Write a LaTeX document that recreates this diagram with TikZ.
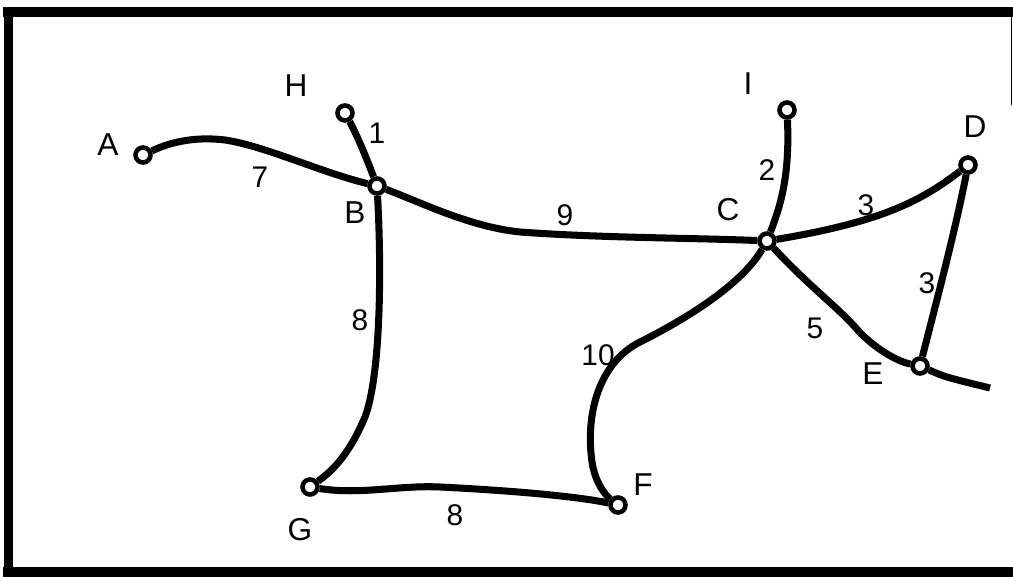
\documentclass[tikz,border=0pt]{standalone}
\usepackage{fontspec}
\setmainfont{Liberation Sans}
\begin{document}
\begin{tikzpicture}[x=0.02cm, y=0.02cm,
      town/.style={
        % The shape:
        circle, minimum size=0.3cm, inner sep=0pt,
        % The rest
        line width=2.6pt, draw=black, fill=white},
      road/.style={line width=4pt, line join=round},
      letter/.style={font=\fontsize{18}{20}\selectfont},
      weight/.style={font=\fontsize{17}{20}\selectfont}]
    \useasboundingbox (0,0) rectangle (1013,577);
    % frame
    \draw[line width=0.2cm] (3,565) -- (1013,565);
    \draw[line width=0.2cm] (8.5,570) -- (8.5,0);
    \draw[line width=0.2cm] (3,5) -- (1013,5);
    \draw[line width=1pt] (1011.5,565) -- (1011.5,472);

    \node(A)[town] at (143,422){};
    \node(H)[town] at (345,464){};
    \node(B)[town] at (377,391){};
    \node(I)[town] at (787,467){};
    \node(D)[town] at (968,412){};
    \node(C)[town] at (767,336){};
    \node(E)[town] at (920,211){};
    \node(F)[town] at (618,72){};
    \node(G)[town] at (310,90){};
    \coordinate(X) at (990,189);

    \node(lA)[letter] at (108,432){A};
    \node(lH)[letter] at (296,491){H};
    \node(lB)[letter] at (355,364){B};
    \node(lI)[letter] at (748,493){I};
    \node(lD)[letter] at (975,450){D};
    \node(lC)[letter] at (728,367){C};
    \node(lE)[letter] at (873,203){E};
    \node(lF)[letter] at (643,92){F};
    \node(lG)[letter] at (300,47){G};

    \draw[road] (A) .. controls (175,437) and (200,440) .. (225,437)
                    .. controls (265,431) and (320,405) .. (B);
    \node(wAB)[weight] at (260,400){7};
    \draw[road] (H) .. controls (358,440) and (368,415) .. (B);
    \node(wHB)[weight] at (377,444){1};
    \draw[road] (B) .. controls (420,375) and (470,350) .. (520,345)
                    .. controls (600,339) and (700,339) .. (C);
    \node(wBC)[weight] at (565,362){9};
    \draw[road] (I) .. controls (790,400) and (780,370) .. (C);
    \node(wIC)[weight] at (767,407){2};
    \draw[road] (C) .. controls (880,355) and (920,375) .. (D);
    \node(wCD)[weight] at (866,372){3};
    \draw[road] (D) .. controls (955,345) and (935,270) .. (E);
    \node(wDE)[weight] at (927,294){3};
    \draw[road] (C) .. controls (810,290) and (835,272) .. (855,250)
                    .. controls (870,232) and (895,216) .. (E);
    \node(wCE)[weight] at (815,249){5};
    \draw[road] (E) .. controls (945,200) .. (X);
    \draw[road] (C) .. controls (740,290) and (680,255) .. (640,235)
                    .. controls (600,215) and (585,165) .. (592,115)
                    .. controls (595,95) and (605,82) .. (F);
    \node(wCF)[weight] at (598,222){10};
    \draw[road] (B) .. controls (382,300) and (380,200) .. (365,160)
                    .. controls (350,125) and (335,108) .. (G);
    \node(wBG)[weight] at (360,257){8};
    \draw[road] (G) .. controls (360,82) and (400,92) .. (440,90)
                    .. controls (520,86) and (580,80) .. (F);
    \node(wGF)[weight] at (455,62){8};

  \end{tikzpicture}
\end{document}
